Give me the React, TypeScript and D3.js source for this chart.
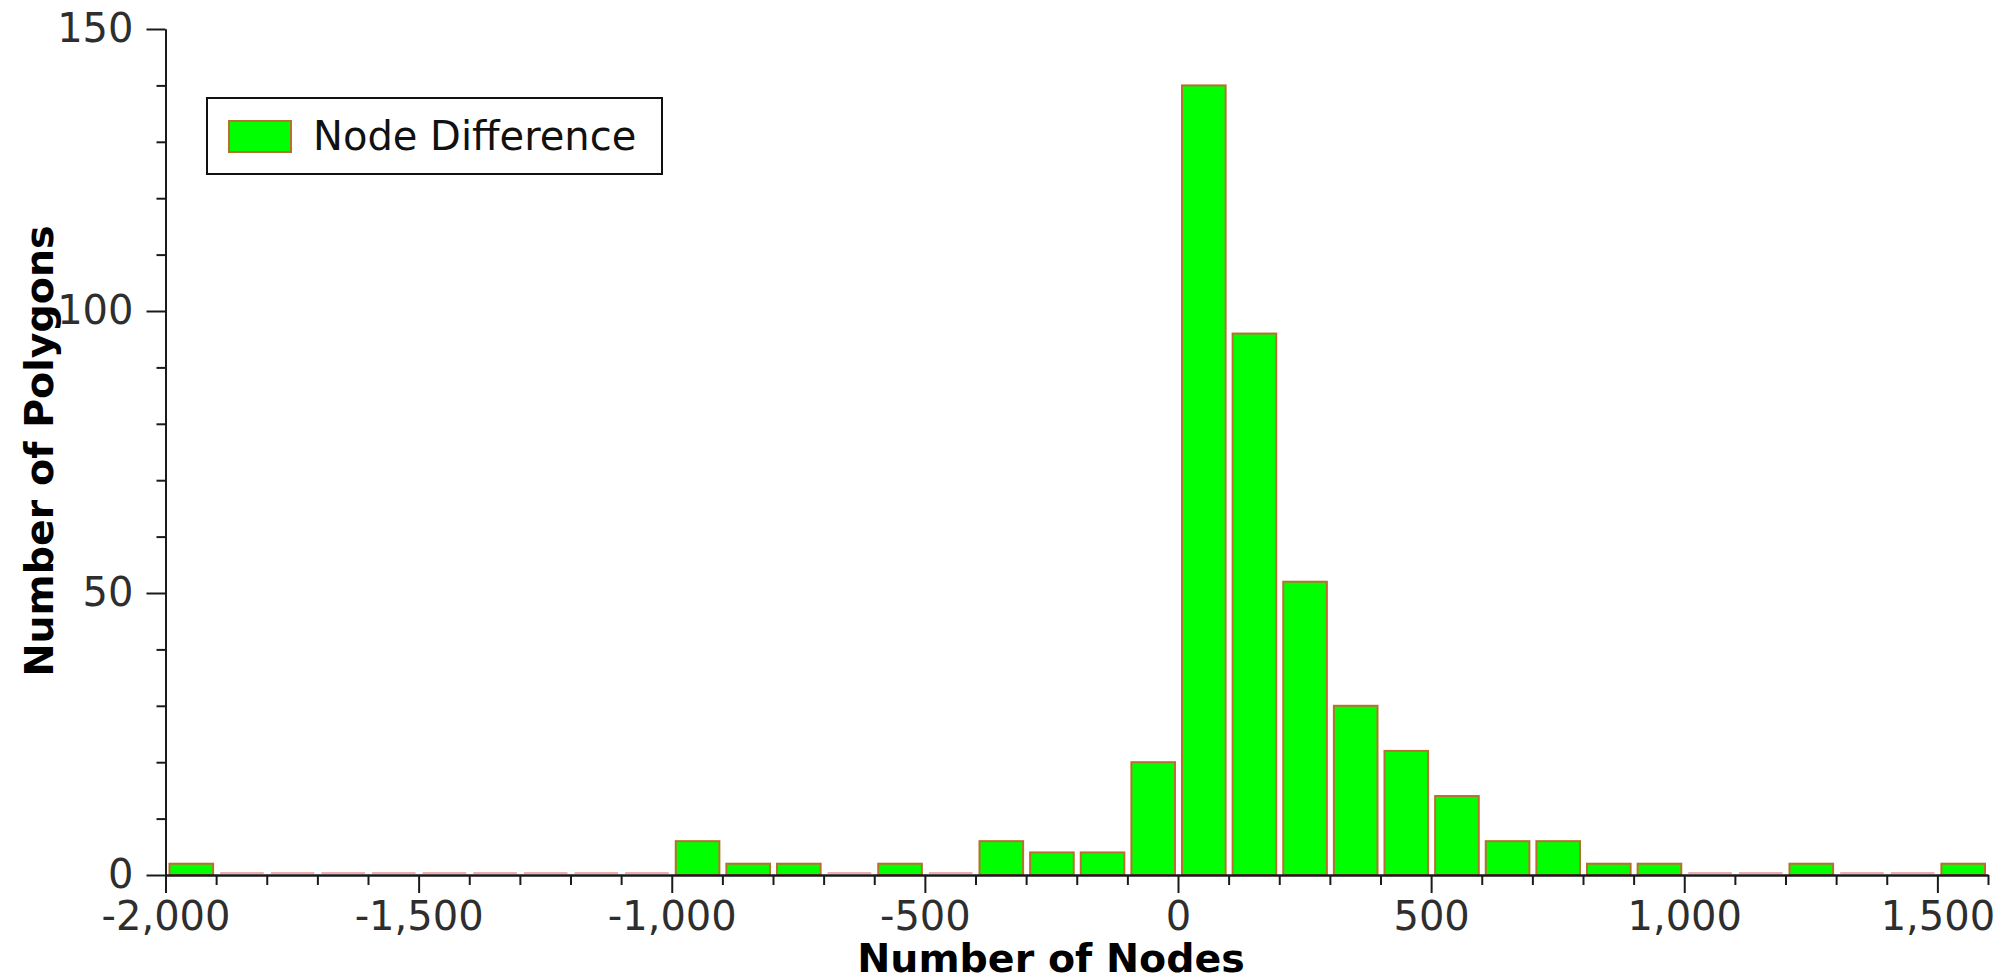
import React, { useRef, useEffect } from 'react';
import * as d3 from 'd3';

// histogram bins (lower edge of each 100-node bin) and polygon counts
const binStarts = [
  -2000, -1900, -1800, -1700, -1600, -1500, -1400, -1300, -1200, -1100,
  -1000, -900, -800, -700, -600, -500, -400, -300, -200, -100,
  0, 100, 200, 300, 400, 500, 600, 700, 800, 900,
  1000, 1100, 1200, 1300, 1400, 1500,
];
const counts = [
  2, 0, 0, 0, 0, 0, 0, 0, 0, 0,
  6, 2, 2, 0, 2, 0, 6, 4, 4, 20,
  140, 96, 52, 30, 22, 14, 6, 6, 2, 2,
  0, 0, 2, 0, 0, 2,
];
const binWidth = 100;

const xMajorTicks = [-2000, -1500, -1000, -500, 0, 500, 1000, 1500];
const yMajorTicks = [0, 50, 100, 150];

const seriesName = 'Node Difference';
const xTitle = 'Number of Nodes';
const yTitle = 'Number of Polygons';

const W = 1999;
const H = 979;
const FONT = '"DejaVu Sans", Verdana, sans-serif';

const fmt = d3.formatLocale({
  decimal: '.',
  thousands: ',',
  grouping: [3],
  currency: ['$', ''],
  minus: '-',
}).format(',');

function App() {
  const xAxisRef = useRef<SVGGElement>(null);
  const yAxisRef = useRef<SVGGElement>(null);

  const x = d3.scaleLinear().domain([-2000, 1600]).range([165.5, 1988]);
  const y = d3.scaleLinear().domain([0, 150]).range([875, 29]);

  const bins = binStarts.map((b, i) => ({ x0: b, x1: b + binWidth, count: counts[i] }));

  useEffect(() => {
    // x axis: minor ticks every 100, major every 500
    const gx = d3.select(xAxisRef.current);
    gx.selectAll('*').remove();
    const minorX = x.ticks(36).filter((v) => !xMajorTicks.includes(v));
    gx.append('g')
      .call(d3.axisBottom(x).tickValues(minorX).tickSize(10).tickSizeOuter(0).tickFormat(() => ''));
    gx.append('g')
      .call(
        d3.axisBottom(x).tickValues(xMajorTicks).tickSize(18).tickSizeOuter(0).tickPadding(9)
          .tickFormat((d) => fmt(d as number))
      );
    gx.selectAll('path.domain').attr('stroke', '#1a1a1a').attr('stroke-width', 2);
    gx.selectAll('line').attr('stroke', '#1a1a1a').attr('stroke-width', 2);
    gx.selectAll('text').attr('font-size', 40).attr('font-family', FONT).attr('fill', '#2e2e2e');

    // y axis: minor ticks every 10, major every 50
    const gy = d3.select(yAxisRef.current);
    gy.selectAll('*').remove();
    const minorY = y.ticks(15).filter((v) => !yMajorTicks.includes(v));
    gy.append('g')
      .call(d3.axisLeft(y).tickValues(minorY).tickSize(9).tickSizeOuter(0).tickFormat(() => ''));
    gy.append('g')
      .call(d3.axisLeft(y).tickValues(yMajorTicks).tickSize(19).tickSizeOuter(0).tickPadding(13));
    gy.selectAll('path.domain').attr('stroke', '#1a1a1a').attr('stroke-width', 2);
    gy.selectAll('line').attr('stroke', '#1a1a1a').attr('stroke-width', 2);
    gy.selectAll('text').attr('font-size', 40).attr('font-family', FONT).attr('fill', '#2e2e2e');
  }, []);

  return (
    <svg
      width={W}
      height={H}
      style={{ position: 'absolute', left: 0, top: 0, background: '#fff' }}
      fontFamily={FONT}
    >
      <rect width={W} height={H} fill="#fff" />

      {/* bars */}
      {bins.map((b, i) =>
        b.count > 0 ? (
          <rect
            key={i}
            x={x(b.x0) + 4}
            y={y(b.count)}
            width={x(b.x1) - x(b.x0) - 7}
            height={y(0) - y(b.count)}
            fill="#00ff00"
            stroke="#b8702e"
            strokeWidth={2}
          />
        ) : (
          <line
            key={i}
            x1={x(b.x0) + 4}
            x2={x(b.x1) - 3}
            y1={y(0) - 2}
            y2={y(0) - 2}
            stroke="#f0adad"
            strokeWidth={2}
          />
        )
      )}

      <g ref={xAxisRef} transform={`translate(0, ${y(0)})`} />
      <g ref={yAxisRef} transform={`translate(${x(-2000)}, 0)`} />

      {/* axis titles */}
      <text x={1051} y={972} textAnchor="middle" fontSize={39.5} fontWeight="bold" fill="#000">
        {xTitle}
      </text>
      <text
        transform={`translate(53, 451) rotate(-90)`}
        textAnchor="middle"
        fontSize={39.5}
        fontWeight="bold"
        fill="#000"
      >
        {yTitle}
      </text>

      {/* legend */}
      <g>
        <rect x={207} y={98} width={455} height={76} fill="#fff" stroke="#111" strokeWidth={2} />
        <rect x={229} y={121} width={62} height={31} fill="#00ff00" stroke="#b8702e" strokeWidth={2} />
        <text x={313} y={150} fontSize={40} fill="#111">
          {seriesName}
        </text>
      </g>
    </svg>
  );
}

export default App;
